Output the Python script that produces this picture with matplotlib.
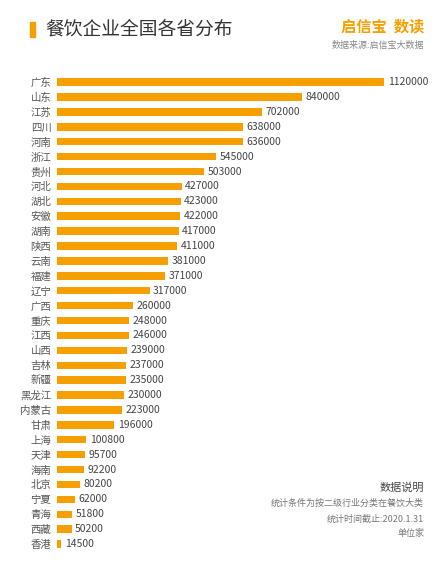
import matplotlib.pyplot as plt

plt.rcParams['font.family'] = ['Noto Sans CJK SC', 'DejaVu Sans']

provinces = ["广东", "山东", "江苏", "四川", "河南", "浙江", "贵州", "河北", "湖北", "安徽",
             "湖南", "陕西", "云南", "福建", "辽宁", "广西", "重庆", "江西", "山西", "吉林",
             "新疆", "黑龙江", "内蒙古", "甘肃", "上海", "天津", "海南", "北京", "宁夏", "青海",
             "西藏", "香港"]
counts = [1120000, 840000, 702000, 638000, 636000, 545000, 503000, 427000, 423000, 422000,
          417000, 411000, 381000, 371000, 317000, 260000, 248000, 246000, 239000, 237000,
          235000, 230000, 223000, 196000, 100800, 95700, 92200, 80200, 62000, 51800,
          50200, 14500]

orange = "#F5A000"
fig = plt.figure(figsize=(4.37, 5.63), dpi=100)
fig.patch.set_facecolor("white")

# title block
fig.patches.append(plt.Rectangle((30 / 437, 1 - 37 / 563), 5 / 437, 15 / 563,
                                 transform=fig.transFigure, color=orange))
fig.text(45 / 437, 1 - 29 / 563, "餐饮企业全国各省分布", fontsize=13.5, color="#333333", va="center")
fig.text(424 / 437, 1 - 26 / 563, "启信宝  数读", fontsize=11, color=orange, ha="right",
         va="center", fontweight="bold")
fig.text(424 / 437, 1 - 45 / 563, "数据来源:启信宝大数据", fontsize=6.5, color="#888888",
         ha="right", va="center")

ax = fig.add_axes([57 / 437, 0.0204, 380 / 437, 0.847])
y = range(len(provinces))
ax.barh(y, counts, height=0.5, color=orange)
ax.set_ylim(len(provinces) - 0.5, -0.5)
ax.set_xlim(0, 1301000)
ax.set_yticks(list(y))
ax.set_yticklabels(provinces, fontsize=7.5, color="#555555")
ax.tick_params(axis="y", length=0, pad=4)
ax.set_xticks([])
for s in ax.spines.values():
    s.set_visible(False)
ax.patch.set_alpha(0)
for i, v in enumerate(counts):
    ax.text(v + 12000, i, str(v), va="center", fontsize=7.5, color="#444444")

# notes
fig.text(424 / 437, 1 - 488 / 563, "数据说明", fontsize=8, color="#444444", ha="right", va="center")
fig.text(424 / 437, 1 - 503 / 563, "统计条件为按二级行业分类在餐饮大类", fontsize=6.5,
         color="#777777", ha="right", va="center")
fig.text(424 / 437, 1 - 519 / 563, "统计时间截止:2020.1.31", fontsize=6.5, color="#777777",
         ha="right", va="center")
fig.text(424 / 437, 1 - 533 / 563, "单位家", fontsize=6.5, color="#777777", ha="right", va="center")

fig.savefig("out.png", dpi=100)
